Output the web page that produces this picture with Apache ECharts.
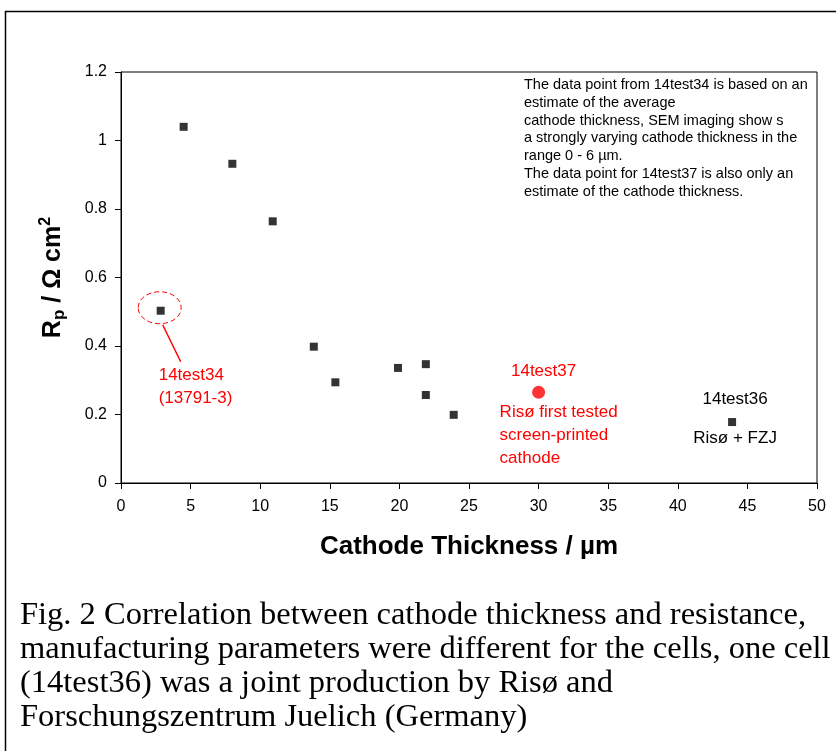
<!DOCTYPE html>
<html><head><meta charset="utf-8">
<script src="https://cdn.jsdelivr.net/npm/echarts@6/dist/echarts.min.js"></script>
<style>html,body{margin:0;padding:0;background:#fff;}#c{width:836px;height:751px;}</style>
</head><body><div id="c"></div>
<script>
// Data (cathode thickness in µm, Rp in Ω cm²)
const thicknessBlack = [4.5, 8, 10.9, 2.85, 13.85, 15.4, 19.9, 21.9, 21.9, 23.9, 43.9];
const resistanceBlack = [1.04, 0.932, 0.764, 0.503, 0.398, 0.294, 0.336, 0.347, 0.257, 0.199, 0.178];
const thicknessRed = [30];
const resistanceRed = [0.265];
const xTicks = [0, 5, 10, 15, 20, 25, 30, 35, 40, 45, 50];
const yTicks = [0, 0.2, 0.4, 0.6, 0.8, 1, 1.2];
const noteLines = [
  'The data point from 14test34 is based on an',
  'estimate of the average',
  'cathode thickness, SEM imaging show s',
  'a strongly varying cathode thickness in the',
  'range 0 - 6 µm.',
  'The data point for 14test37 is also only an',
  'estimate of the cathode thickness.'
];
const captionLines = [
  'Fig. 2 Correlation between cathode thickness and resistance,',
  'manufacturing parameters were different for the cells, one cell',
  '(14test36) was a joint production by Risø and',
  'Forschungszentrum Juelich (Germany)'
];

const FONT = 'Liberation Sans, Arial, sans-serif';
const chart = echarts.init(document.getElementById('c'));
const blackData = thicknessBlack.map((x, i) => [x, resistanceBlack[i]]);
const redData = thicknessRed.map((x, i) => [x, resistanceRed[i]]);

chart.setOption({
  animation: false,
  backgroundColor: '#fff',
  grid: {left: 121, top: 72, width: 696, height: 411, show: true, borderColor: '#000', borderWidth: 1},
  xAxis: {
    type: 'value', min: xTicks[0], max: xTicks[xTicks.length - 1], interval: xTicks[1] - xTicks[0],
    axisLine: {onZero: false, lineStyle: {color: '#000', width: 1}},
    axisTick: {show: true, inside: false, length: 6, lineStyle: {color: '#000'}},
    splitLine: {show: false},
    axisLabel: {color: '#000', fontFamily: FONT, fontSize: 16, margin: 16},
    name: 'Cathode Thickness / µm', nameLocation: 'middle', nameGap: 51,
    nameTextStyle: {fontFamily: FONT, fontWeight: 'bold', fontSize: 26, color: '#000'}
  },
  yAxis: {
    type: 'value', min: yTicks[0], max: yTicks[yTicks.length - 1], interval: yTicks[1] - yTicks[0],
    axisLine: {show: true, onZero: false, lineStyle: {color: '#000', width: 1}},
    axisTick: {show: true, inside: false, length: 6, lineStyle: {color: '#000'}},
    splitLine: {show: false},
    axisLabel: {color: '#000', fontFamily: FONT, fontSize: 16, margin: 14,
      formatter: v => String(parseFloat(v.toFixed(1)))},
    name: '{b|R}{s|p}{b| / Ω cm}{t|2}', nameLocation: 'middle', nameGap: 53, nameRotate: 90,
    nameTextStyle: {
      color: '#000',
      rich: {
        b: {fontFamily: FONT, fontWeight: 'bold', fontSize: 25, color: '#000', verticalAlign: 'middle', lineHeight: 30},
        s: {fontFamily: FONT, fontWeight: 'bold', fontSize: 17, color: '#000', verticalAlign: 'bottom', lineHeight: 30},
        t: {fontFamily: FONT, fontWeight: 'bold', fontSize: 16, color: '#000', verticalAlign: 'top', lineHeight: 30}
      }
    }
  },
  series: [
    {type: 'scatter', data: blackData, symbol: 'rect', symbolSize: 8, itemStyle: {color: '#000'}, z: 5},
    {type: 'scatter', data: redData, symbol: 'circle', symbolSize: 13, itemStyle: {color: '#ff0000'}, z: 5}
  ]
});

const px = d => chart.convertToPixel({gridIndex: 0}, d);
const p34 = px(blackData[3]);
const p37 = px(redData[0]);
const p36 = px(blackData[10]);
const RED = '#ff0000';
const lbl = (x, y, text, color, align, size) => ({
  type: 'text', x: x, y: y, z: 20,
  style: {text: text, fill: color, font: (size || 17) + 'px ' + FONT, textAlign: align || 'left', textVerticalAlign: 'middle'}
});

chart.setOption({
  graphic: [
    {type: 'line', z: 20, shape: {x1: 5, y1: 11.5, x2: 836, y2: 11.5}, style: {stroke: '#000', lineWidth: 1.5}},
    {type: 'line', z: 20, shape: {x1: 5.5, y1: 11, x2: 5.5, y2: 751}, style: {stroke: '#000', lineWidth: 1.5}},
    {type: 'ellipse', z: 20, shape: {cx: p34[0] - 1, cy: p34[1] - 3, rx: 21.5, ry: 16},
      style: {fill: 'none', stroke: RED, lineWidth: 1, lineDash: [5, 3]}},
    {type: 'line', z: 20, shape: {x1: p34[0] + 2, y1: p34[1] + 14, x2: p34[0] + 20, y2: p34[1] + 51},
      style: {stroke: RED, lineWidth: 1.5}},
    lbl(p34[0] - 2, p34[1] + 65, '14test34', RED),
    lbl(p34[0] - 2, p34[1] + 88, '(13791-3)', RED),
    lbl(p37[0] + 5, p37[1] - 21, '14test37', RED, 'center'),
    lbl(p37[0] - 39, p37[1] + 20, 'Risø first tested', RED),
    lbl(p37[0] - 39, p37[1] + 43, 'screen-printed', RED),
    lbl(p37[0] - 39, p37[1] + 66, 'cathode', RED),
    lbl(p36[0] + 3, p36[1] - 23, '14test36', '#000', 'center'),
    lbl(p36[0] + 3, p36[1] + 16, 'Risø + FZJ', '#000', 'center'),
    {type: 'text', x: 524, y: 76, z: 20,
      style: {text: noteLines.join('\n'), fill: '#000', font: '14.5px ' + FONT, lineHeight: 17.8, textAlign: 'left', textVerticalAlign: 'top'}},
    {type: 'text', x: 20, y: 599, z: 20,
      style: {text: captionLines.join('\n'), fill: '#000', font: '32.5px Liberation Serif, Times New Roman, serif', lineHeight: 33.8, textAlign: 'left', textVerticalAlign: 'top'}}
  ]
});
</script>
</body></html>
